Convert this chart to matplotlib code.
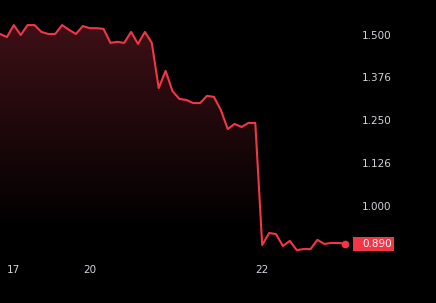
import numpy as np
import matplotlib.pyplot as plt
from matplotlib.colors import LinearSegmentedColormap
from matplotlib.patches import Polygon, Rectangle

prices = [1.503, 1.494, 1.529, 1.500, 1.529, 1.529, 1.509, 1.503, 1.503, 1.529,
          1.515, 1.503, 1.526, 1.520, 1.520, 1.518, 1.477, 1.480, 1.477, 1.509,
          1.474, 1.509, 1.477, 1.345, 1.395, 1.336, 1.313, 1.310, 1.301, 1.301,
          1.322, 1.319, 1.281, 1.225, 1.240, 1.231, 1.243, 1.243, 0.886, 0.921,
          0.918, 0.883, 0.898, 0.871, 0.874, 0.874, 0.901, 0.889, 0.892, 0.892,
          0.890]
day_ticks = [2, 13, 38]
day_labels = ['17', '20', '22']
price_ticks = [1.500, 1.376, 1.250, 1.126, 1.000]
price_labels = ['1.500', '1.376', '1.250', '1.126', '1.000']

red = '#f23645'
txt = '#d1d4dc'

W, H = 436, 303
fig = plt.figure(figsize=(W / 100, H / 100), dpi=100, facecolor='black')
ax = fig.add_axes([0, (H - 255) / H, 352 / W, 255 / H])
ax.set_facecolor('black')

x = np.arange(len(prices))
step = 6.9        # px per point
ppu = 342         # px per price unit
ax.set_xlim(0, 352 / step)
ytop = 1.5 + 35 / ppu
ybot = 1.5 - 220 / ppu
ax.set_ylim(ybot, ytop)

# gradient fill under the line: black up to ~0.93, then ramps to dark red
cmap = LinearSegmentedColormap.from_list(
    'g', [(0, '#000000'), ((0.93 - ybot) / (1.53 - ybot), '#000000'), (1, '#3d1016')])
grad = np.linspace(0, 1, 256).reshape(-1, 1)
img = ax.imshow(grad, cmap=cmap, aspect='auto', origin='lower',
                extent=[0, 352 / step, ybot, 1.53], zorder=1, vmin=0, vmax=1)
verts = [(0, ybot)] + list(zip(x, prices)) + [(x[-1], ybot)]
clip = Polygon(verts, closed=True, transform=ax.transData, facecolor='none', edgecolor='none')
ax.add_patch(clip)
img.set_clip_path(clip)

ax.plot(x, prices, color=red, lw=1.5, zorder=3)
ax.plot(x[-1], prices[-1], 'o', color=red, ms=4.5, zorder=4, clip_on=False)

for s in ax.spines.values():
    s.set_visible(False)
ax.yaxis.tick_right()
ax.set_yticks(price_ticks)
ax.set_yticklabels(price_labels)
ax.set_xticks(day_ticks)
ax.set_xticklabels(day_labels)
ax.tick_params(axis='both', length=0, colors=txt, labelsize=7.5)
ax.tick_params(axis='y', pad=7.2)
ax.tick_params(axis='x', pad=7)

# last price badge
ax.add_patch(Rectangle((353 / step, prices[-1] - 7 / ppu), 41 / step, 14 / ppu,
                       facecolor=red, edgecolor='none', clip_on=False, zorder=5))
ax.text(362 / step, prices[-1], '%.3f' % prices[-1], ha='left', va='center',
        color='white', fontsize=7.5, clip_on=False, zorder=6)

fig.savefig('out.png', dpi=100, facecolor='black')
